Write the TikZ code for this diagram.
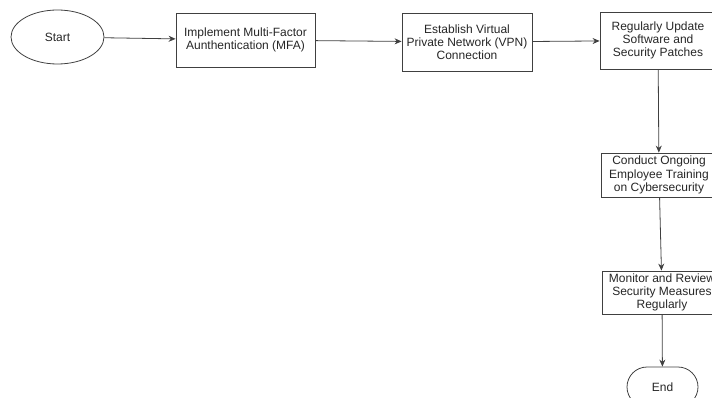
\documentclass[tikz,border=0pt]{standalone}
\usepackage{fontspec}
\setmainfont{Liberation Sans}
\usetikzlibrary{arrows.meta,shapes.geometric,shapes.misc}
\begin{document}
\begin{tikzpicture}[x=1pt, y=-1pt,
    font=\fontsize{12}{13.2}\selectfont,
    stepbox/.style={draw=black!75, line width=0.8pt, text=black!85, align=center, inner sep=2pt},
    flow/.style={draw=black!75, line width=0.8pt, -{Stealth[length=7pt,width=6pt]}}]
    \useasboundingbox (0,0) rectangle (712,398);
    \node[stepbox, ellipse, minimum width=93pt, minimum height=54pt] (start) at (57.5,37) {Start};
    \node[stepbox, minimum width=139pt, minimum height=54pt] (mfa) at (245.5,40) {Implement Multi-Factor\\Aunthentication (MFA)};
    \node[stepbox, minimum width=130pt, minimum height=58pt] (vpn) at (467,42) {Establish Virtual\\Private Network (VPN)\\Connection};
    \node[stepbox, minimum width=116pt, minimum height=57pt] (update) at (658,40.5) {Regularly Update\\Software and\\Security Patches};
    \node[stepbox, minimum width=116pt, minimum height=44pt] (training) at (659,175) {Conduct Ongoing\\Employee Training\\on Cybersecurity};
    \node[stepbox, minimum width=120pt, minimum height=43pt] (monitor) at (662,292.5) {Monitor and Review\\Security Measures\\Regularly};
    \node[stepbox, rounded rectangle, minimum width=75pt, minimum height=40pt] (end) at (662.5,387) {End};
    % connectors
    \draw[flow] (start) -- (mfa);
    \draw[flow] (mfa) -- (vpn);
    \draw[flow] (vpn) -- (update);
    \draw[flow] (update) -- (training);
    \draw[flow] (training) -- (monitor);
    \draw[flow] (monitor) -- (end);
\end{tikzpicture}
\end{document}
